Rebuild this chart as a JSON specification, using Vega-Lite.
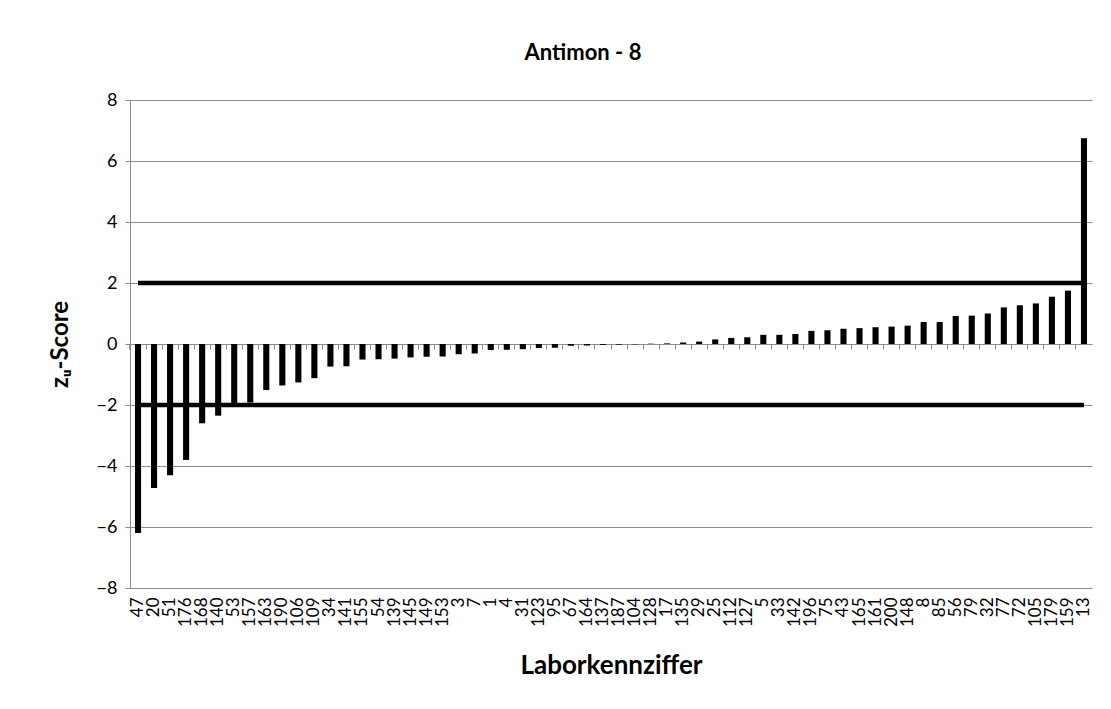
{
  "$schema": "https://vega.github.io/schema/vega-lite/v6.json",
  "width": 962,
  "height": 488,
  "autosize": "none",
  "padding": {"left": 130, "top": 100, "right": 19, "bottom": 121},
  "background": "white",
  "config": {"view": {"stroke": null}, "font": "Lato"},
  "title": {"text": "Antimon - 8", "fontSize": 22, "font": "Lato", "fontWeight": "bold", "color": "black", "anchor": "middle", "dx": -28, "offset": 4, "baseline": "bottom"},
  "data": {"values": [
    {"lab": "47", "z": -6.2}, {"lab": "20", "z": -4.72}, {"lab": "51", "z": -4.3}, {"lab": "176", "z": -3.8},
    {"lab": "168", "z": -2.6}, {"lab": "140", "z": -2.35}, {"lab": "53", "z": -2.0}, {"lab": "157", "z": -1.92},
    {"lab": "163", "z": -1.51}, {"lab": "190", "z": -1.36}, {"lab": "106", "z": -1.26}, {"lab": "109", "z": -1.12},
    {"lab": "34", "z": -0.74}, {"lab": "141", "z": -0.73}, {"lab": "155", "z": -0.51}, {"lab": "54", "z": -0.5},
    {"lab": "139", "z": -0.48}, {"lab": "145", "z": -0.44}, {"lab": "149", "z": -0.42}, {"lab": "153", "z": -0.41},
    {"lab": "3", "z": -0.34}, {"lab": "7", "z": -0.31}, {"lab": "1", "z": -0.2}, {"lab": "4", "z": -0.19},
    {"lab": "31", "z": -0.17}, {"lab": "123", "z": -0.13}, {"lab": "95", "z": -0.12}, {"lab": "67", "z": -0.06},
    {"lab": "164", "z": -0.05}, {"lab": "137", "z": -0.03}, {"lab": "187", "z": -0.02}, {"lab": "104", "z": -0.01},
    {"lab": "128", "z": 0.01}, {"lab": "17", "z": 0.02}, {"lab": "135", "z": 0.05}, {"lab": "29", "z": 0.08},
    {"lab": "25", "z": 0.15}, {"lab": "112", "z": 0.2}, {"lab": "127", "z": 0.22}, {"lab": "5", "z": 0.3},
    {"lab": "33", "z": 0.3}, {"lab": "142", "z": 0.33}, {"lab": "196", "z": 0.43}, {"lab": "75", "z": 0.45},
    {"lab": "43", "z": 0.5}, {"lab": "165", "z": 0.52}, {"lab": "161", "z": 0.55}, {"lab": "200", "z": 0.57},
    {"lab": "148", "z": 0.6}, {"lab": "8", "z": 0.72}, {"lab": "85", "z": 0.72}, {"lab": "56", "z": 0.92},
    {"lab": "79", "z": 0.93}, {"lab": "32", "z": 1.0}, {"lab": "77", "z": 1.2}, {"lab": "72", "z": 1.27},
    {"lab": "105", "z": 1.33}, {"lab": "179", "z": 1.55}, {"lab": "159", "z": 1.75}, {"lab": "13", "z": 6.75}
  ]},
  "layer": [
    {
      "mark": {"type": "bar", "color": "black", "width": {"band": 0.38}},
      "encoding": {
        "x": {"field": "lab", "type": "nominal", "sort": null,
          "scale": {"paddingInner": 0, "paddingOuter": 0},
          "axis": {"orient": "bottom", "title": "Laborkennziffer", "labelAngle": -90, "labelFontSize": 17, "labelColor": "black",
            "ticks": false, "domain": false, "grid": false, "labelPadding": 9, "labelOverlap": false,
            "titleFontSize": 26, "titleFontWeight": "bold", "titleColor": "black", "titleY": 85, "titleBaseline": "alphabetic"}},
        "y": {"field": "z", "type": "quantitative", "scale": {"domain": [-8, 8], "nice": false},
          "axis": {"values": [-8, -6, -4, -2, 0, 2, 4, 6, 8], "title": "zᵤ-Score", "grid": true, "gridColor": "#8c8c8c",
            "domainColor": "#8c8c8c", "tickColor": "#8c8c8c", "tickSize": 5, "labelFontSize": 18, "labelColor": "black",
            "labelPadding": 8, "titleFontSize": 24, "titleFontWeight": "bold", "titleColor": "black",
            "titleX": -58, "titleY": 244, "titleAlign": "center", "titleBaseline": "bottom"}}
      }
    },
    {
      "mark": {"type": "line", "color": "black", "strokeWidth": 4.5},
      "encoding": {
        "x": {"field": "lab", "type": "nominal", "sort": null,
          "axis": {"orient": "bottom", "offset": -244, "labels": false, "title": null, "ticks": true, "tickSize": 5,
            "tickColor": "#8c8c8c", "domainColor": "#8c8c8c", "bandPosition": 0, "grid": false}},
        "y": {"datum": 2}
      }
    },
    {
      "mark": {"type": "line", "color": "black", "strokeWidth": 4.5},
      "encoding": {
        "x": {"field": "lab", "type": "nominal", "sort": null, "axis": null},
        "y": {"datum": -2}
      }
    }
  ],
  "resolve": {"axis": {"x": "independent"}}
}
